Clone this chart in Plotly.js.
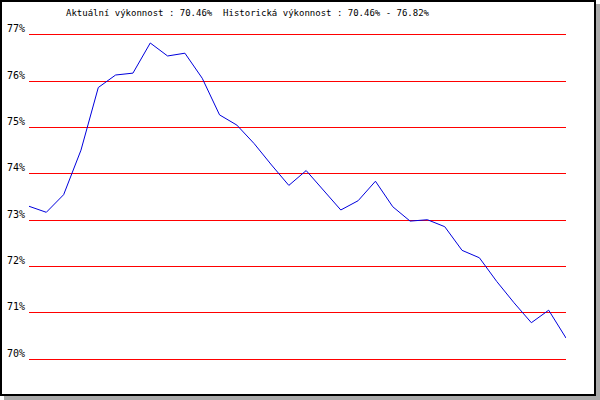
<!DOCTYPE html>
<html>
<head>
<meta charset="utf-8">
<script src="https://cdn.plot.ly/plotly-3.0.1.min.js"></script>
<style>
  html, body { margin: 0; padding: 0; background: #ffffff; }
  #wrap { position: relative; width: 600px; height: 400px; overflow: hidden; }
  #frame { position: absolute; left: 0; top: 0; width: 592px; height: 392px;
           border: 2px solid #000000; background: #ffffff;
           box-shadow: 4px 4px 0 #aaaaaa; }
  #chart { position: absolute; left: 0; top: 0; width: 600px; height: 400px; }
</style>
</head>
<body>
<div id="wrap">
  <div id="frame"></div>
  <div id="chart"></div>
</div>
<script>
// Measurement periods (no labels shown on the x axis)
const periods = [1, 2, 3, 4, 5, 6, 7, 8, 9, 10, 11, 12, 13, 14, 15, 16,
                 17, 18, 19, 20, 21, 22, 23, 24, 25, 26, 27, 28, 29, 30, 31, 32];
// Performance in percent
const performance = [73.30, 73.17, 73.55, 74.51, 75.86, 76.13, 76.17, 76.82,
                     76.54, 76.60, 76.06, 75.27, 75.05, 74.65, 74.19, 73.75,
                     74.07, 73.64, 73.22, 73.42, 73.84, 73.29, 72.98, 73.01,
                     72.86, 72.35, 72.19, 71.68, 71.22, 70.79, 71.06, 70.46];
const yTicks = [70, 71, 72, 73, 74, 75, 76, 77];
const yTickLabels = ['70%', '71%', '72%', '73%', '74%', '75%', '76%', '77%'];
const titleText = 'Aktuální výkonnost : 70.46%  Historická výkonnost : 70.46% - 76.82%';

const font = { family: 'DejaVu Sans Mono, monospace', size: 9, color: '#000000' };
const tickFont = { family: 'DejaVu Sans Mono, monospace', size: 10, color: '#000000' };

const trace = {
  x: periods,
  y: performance,
  type: 'scatter',
  mode: 'lines',
  line: { color: '#0000dd', width: 1 },
  hoverinfo: 'skip'
};

const layout = {
  width: 600,
  height: 400,
  margin: { l: 29, r: 34, t: 30, b: 36, pad: 0 },
  paper_bgcolor: 'rgba(0,0,0,0)',
  plot_bgcolor: 'rgba(0,0,0,0)',
  showlegend: false,
  hovermode: false,
  font: font,
  title: {
    text: titleText,
    font: font,
    x: 0.4125,
    xanchor: 'center',
    xref: 'container',
    y: 0.9675,
    yanchor: 'middle',
    yref: 'container'
  },
  xaxis: {
    range: [periods[0], periods[periods.length - 1]],
    showgrid: false,
    zeroline: false,
    showline: false,
    showticklabels: false,
    ticks: ''
  },
  yaxis: {
    range: [69.9, 77.1],
    tickmode: 'array',
    tickvals: yTicks,
    ticktext: yTickLabels,
    showgrid: true,
    gridcolor: '#ff0000',
    gridwidth: 1,
    zeroline: false,
    showline: false,
    ticks: '',
    ticklabelstandoff: 3,
    ticklabelshift: -6,
    tickfont: tickFont
  }
};

Plotly.newPlot('chart', [trace], layout, { displayModeBar: false, staticPlot: true });
</script>
</body>
</html>
